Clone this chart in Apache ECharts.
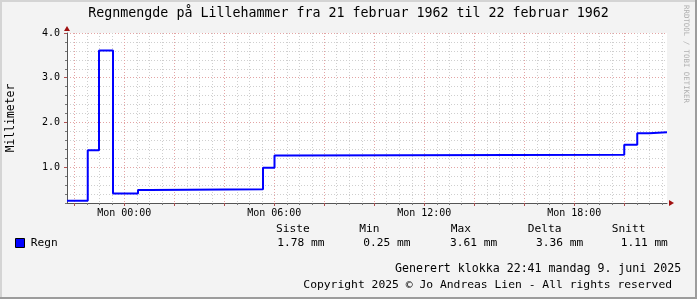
<!DOCTYPE html>
<html>
<head>
<meta charset="utf-8">
<script src="https://cdn.jsdelivr.net/npm/echarts@6/dist/echarts.min.js"></script>
<style>
html,body{margin:0;padding:0;background:#f3f3f3;}
#c{width:697px;height:299px;}
</style>
</head>
<body>
<div id="c"></div>
<script>
// Hours relative to Mon 00:00 (21->22 februar 1962) where each value begins; last entry = end of graph
var times = [-2.29, -1.46, -1.01, -0.45, 0.55, 1.03, 5.55, 6.01, 6.51, 20.0, 20.52, 21.0, 21.71];
var rain  = [0.25, 1.38, 3.61, 0.41, 0.49, 0.51, 0.99, 1.26, 1.28, 1.50, 1.76, 1.78, 1.78];

var xMin = -2.29, xMax = 21.71;
var xLabelTicks = [0, 6, 12, 18];
var xMajorTicks = [-2, 0, 2, 4, 6, 8, 10, 12, 14, 16, 18, 20];
var yLabelTicks = [1, 2, 3, 4];
var yMin = 0.2, yMax = 4.0, yMinorStep = 0.2;

var legendHeaders = ['Siste', 'Min', 'Max', 'Delta', 'Snitt'];
var legendValues = ['1.78 mm', '0.25 mm', '3.61 mm', '3.36 mm', '1.11 mm'];

var xMinorTicks = [];
for (var h = -2; h <= 21.5; h += 0.5) xMinorTicks.push(h);

var data = times.map(function (t, i) { return [t, rain[i]]; });

function pad(n){ return (n < 10 ? '0' : '') + n; }

var MONO = '"DejaVu Sans Mono", monospace';
var chart = echarts.init(document.getElementById('c'), null, {renderer: 'canvas'});

var legendHeaderX = [276, 359.3, 450.7, 527.7, 611.7];
var legendValueX = [277.3, 363.3, 450, 536, 620.7];

var graphics = [
  {type:'rect', shape:{x:0,y:0,width:697,height:2}, style:{fill:'#d4d4d4'}, z:-10},
  {type:'rect', shape:{x:0,y:0,width:2,height:299}, style:{fill:'#d4d4d4'}, z:-10},
  {type:'rect', shape:{x:695,y:0,width:2,height:299}, style:{fill:'#9c9c9c'}, z:-10},
  {type:'rect', shape:{x:0,y:297,width:697,height:2}, style:{fill:'#9c9c9c'}, z:-10},
  {type:'text', x:348.5, y:14, style:{text:'Regnmengde på Lillehammer fra 21 februar 1962 til 22 februar 1962', font:'13.3px ' + MONO, fill:'#000', align:'center', verticalAlign:'middle', textAlign:'center', textVerticalAlign:'middle'}},
  {type:'text', x:11, y:118, rotation:Math.PI/2, style:{text:'Millimeter', font:'11.4px ' + MONO, fill:'#000', align:'center', verticalAlign:'middle', textAlign:'center', textVerticalAlign:'middle'}},
  {type:'text', x:686, y:54, rotation:-Math.PI/2, style:{text:'RRDTOOL / TOBI OETIKER', font:'7.4px ' + MONO, fill:'#b0b0b0', align:'center', verticalAlign:'middle', textAlign:'center', textVerticalAlign:'middle'}},
  {type:'polygon', shape:{points:[[64,31],[70,31],[67,26]]}, style:{fill:'#a01010'}, z:20},
  {type:'polygon', shape:{points:[[669,200],[669,206],[674,203]]}, style:{fill:'#a01010'}, z:20},
  {type:'rect', shape:{x:15.5,y:238.5,width:9,height:9}, style:{fill:'#0000ff', stroke:'#000', lineWidth:1}},
  {type:'text', x:30.7, y:243.3, style:{text:'Regn', font:'11.2px ' + MONO, fill:'#000', verticalAlign:'middle', textVerticalAlign:'middle'}},
  {type:'text', x:395, y:269.3, style:{text:'Generert klokka 22:41 mandag 9. juni 2025', font:'11.6px ' + MONO, fill:'#000', verticalAlign:'middle', textVerticalAlign:'middle'}},
  {type:'text', x:303.3, y:285, style:{text:'Copyright 2025 © Jo Andreas Lien - All rights reserved', font:'11.35px ' + MONO, fill:'#000', verticalAlign:'middle', textVerticalAlign:'middle'}}
];
legendHeaders.forEach(function (t, i) {
  graphics.push({type:'text', x:legendHeaderX[i], y:229.3, style:{text:t, font:'11.2px ' + MONO, fill:'#000', verticalAlign:'middle', textVerticalAlign:'middle'}});
});
legendValues.forEach(function (t, i) {
  graphics.push({type:'text', x:legendValueX[i], y:243.3, style:{text:t, font:'11.2px ' + MONO, fill:'#000', verticalAlign:'middle', textVerticalAlign:'middle'}});
});

var option = {
  animation: false,
  backgroundColor: '#f3f3f3',
  grid: {left:67, right:30, top:33, bottom:96, show:true, backgroundColor:'#ffffff', borderWidth:0},
  xAxis: [
    {
      type:'value', min:xMin, max:xMax, position:'bottom', offset:0,
      axisLine:{show:false, onZero:false},
      axisTick:{show:true, customValues:xMinorTicks, length:2, lineStyle:{color:'#777'}},
      axisLabel:{show:false, customValues:xMinorTicks},
      splitLine:{show:true, lineStyle:{color:'#cfcfcf', type:[1,2], width:1}}
    },
    {
      type:'value', min:xMin, max:xMax, position:'bottom', offset:0,
      axisLine:{show:true, onZero:false, lineStyle:{color:'#555', width:1}},
      axisTick:{show:true, customValues:xMajorTicks, length:3, lineStyle:{color:'#b05050'}},
      axisLabel:{show:false, customValues:xMajorTicks},
      splitLine:{show:true, lineStyle:{color:'#e3a4a4', type:[1,2], width:1}}
    },
    {
      type:'value', min:xMin, max:xMax, position:'bottom', offset:0,
      axisLine:{show:false, onZero:false},
      axisTick:{show:false, customValues:xLabelTicks},
      axisLabel:{show:true, customValues:xLabelTicks, margin:5, color:'#000', fontFamily:'DejaVu Sans Mono', fontSize:10,
        formatter:function(v){ return 'Mon ' + pad(v) + ':00'; }},
      splitLine:{show:false}
    }
  ],
  yAxis: [
    {
      type:'value', min:yMin, max:yMax, interval:yMinorStep, position:'left', offset:0,
      axisLine:{show:false, onZero:false},
      axisTick:{show:true, length:2, lineStyle:{color:'#777'}},
      axisLabel:{show:false},
      splitLine:{show:true, lineStyle:{color:'#cfcfcf', type:[1,2], width:1}}
    },
    {
      type:'value', min:yMin, max:yMax, position:'left', offset:0,
      axisLine:{show:true, onZero:false, lineStyle:{color:'#555', width:1}},
      axisTick:{show:true, customValues:yLabelTicks, length:3, lineStyle:{color:'#b05050'}},
      axisLabel:{show:true, customValues:yLabelTicks, margin:7, color:'#000', fontFamily:'DejaVu Sans Mono', fontSize:10,
        formatter:function(v){ return v.toFixed(1); }},
      splitLine:{show:true, lineStyle:{color:'#e3a4a4', type:[1,2], width:1}}
    }
  ],
  series: [{
    type:'line', xAxisIndex:1, yAxisIndex:1,
    data:data, step:'end', showSymbol:false, symbol:'none',
    lineStyle:{color:'#0000ff', width:2}, z:10
  }],
  graphic: graphics
};
chart.setOption(option);
</script>
</body>
</html>
